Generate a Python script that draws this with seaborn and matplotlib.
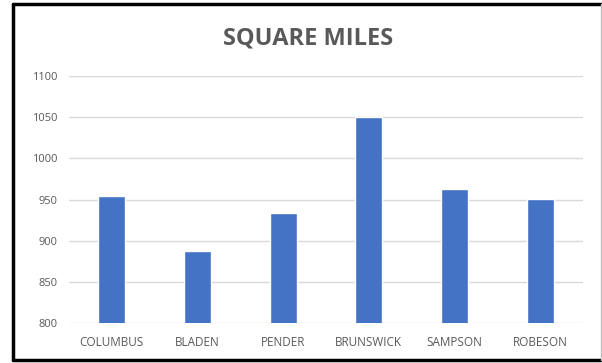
import matplotlib
matplotlib.use("Agg")
import matplotlib.pyplot as plt
import seaborn as sns
import pandas as pd
from matplotlib.lines import Line2D

counties = ["COLUMBUS", "BLADEN", "PENDER", "BRUNSWICK", "SAMPSON", "ROBESON"]
square_miles = [954, 887, 933, 1050, 963, 951]
y_ticks = [800, 850, 900, 950, 1000, 1050, 1100]

df = pd.DataFrame({"county": counties, "sqmi": square_miles})

sns.set_theme(style="white")
plt.rcParams['font.family'] = ['Open Sans', 'DejaVu Sans']

fig = plt.figure(figsize=(6.02, 3.63), dpi=100)
ax = fig.add_axes([69/602, 1-323/363, (583-69)/602, (323-76)/363])

sns.barplot(data=df, x="county", y="sqmi", color="#4472C4", width=0.315,
            saturation=1, ax=ax, zorder=3)

ax.set_ylim(800, 1100)
ax.set_yticks(y_ticks)
ax.set_yticklabels([str(v) for v in y_ticks])
ax.set_xlim(-0.5, len(counties) - 0.5)
ax.yaxis.grid(True, color="#D9D9D9", linewidth=1)
ax.set_axisbelow(True)
for s in ax.spines.values():
    s.set_visible(False)
ax.tick_params(axis="both", length=0, colors="#595959")
ax.tick_params(axis="y", pad=8.5, labelsize=8)
ax.tick_params(axis="x", pad=9, labelsize=8.5)
ax.set_xlabel("")
ax.set_ylabel("")

fig.text(308/602, 1-38/363, "SQUARE MILES", ha="center", va="center",
         fontsize=17, fontweight="bold", color="#595959")

# outer frame
fig.add_artist(Line2D([13/602, 13/602], [1-360/363, 1-4/363], color="black", linewidth=2.5, transform=fig.transFigure))
fig.add_artist(Line2D([13/602, 601/602], [1-4/363, 1-4/363], color="black", linewidth=2.5, transform=fig.transFigure))
fig.add_artist(Line2D([13/602, 601/602], [1-360/363, 1-360/363], color="black", linewidth=2.5, transform=fig.transFigure))
fig.add_artist(Line2D([601/602, 601/602], [1-360/363, 1-4/363], color="#BFBFBF", linewidth=1, transform=fig.transFigure))

fig.savefig("out.png", dpi=100)
